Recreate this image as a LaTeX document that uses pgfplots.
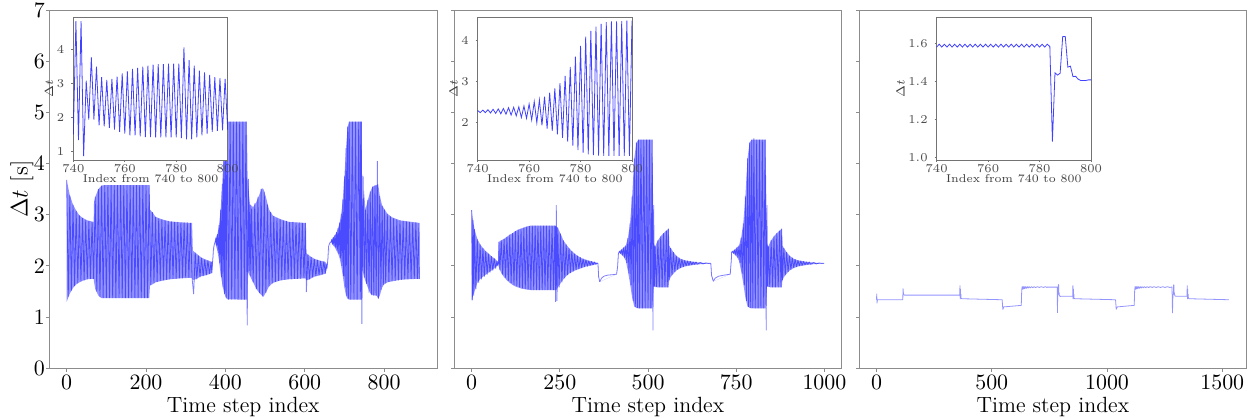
\documentclass[border=0pt]{standalone}
\usepackage{pgfplots}
\usepackage{pgfplotstable}
\usepgfplotslibrary{fillbetween}
\pgfplotsset{compat=1.18}

% Detail window 740--800 of each run
\pgfplotstableread{
x y
740 1.50
741 4.82
742 1.34
743 4.82
744 0.87
745 3.08
746 1.94
747 3.76
748 1.94
749 3.49
750 1.77
751 3.18
752 1.74
753 3.10
754 1.70
755 3.13
756 1.65
757 3.20
758 1.58
759 3.29
760 1.53
761 3.35
762 1.48
763 3.42
764 1.48
765 3.45
766 1.45
767 3.49
768 1.43
769 3.52
770 1.43
771 3.55
772 1.42
773 3.56
774 1.42
775 3.56
776 1.42
777 3.58
778 1.42
779 3.58
780 1.42
781 3.58
782 1.40
783 4.05
784 1.36
785 3.68
786 1.36
787 3.52
788 1.42
789 3.37
790 1.48
791 3.32
792 1.53
793 3.25
794 1.58
795 3.18
796 1.61
797 3.15
798 1.63
799 3.13
800 1.64
}\detailA

\pgfplotstableread{
x y
740 2.29
741 2.24
742 2.30
743 2.24
744 2.31
745 2.23
746 2.32
747 2.22
748 2.33
749 2.21
750 2.34
751 2.20
752 2.36
753 2.18
754 2.37
755 2.16
756 2.38
757 2.12
758 2.40
759 2.10
760 2.45
761 2.06
762 2.51
763 1.99
764 2.55
765 1.93
766 2.63
767 1.85
768 2.73
769 1.79
770 2.83
771 1.71
772 2.96
773 1.62
774 3.14
775 1.53
776 3.36
777 1.43
778 3.61
779 1.32
780 3.87
781 1.26
782 4.10
783 1.22
784 4.24
785 1.20
786 4.34
787 1.19
788 4.41
789 1.18
790 4.45
791 1.18
792 4.47
793 1.18
794 4.47
795 1.18
796 4.48
797 1.18
798 4.49
799 1.18
800 4.49
}\detailB

\pgfplotstableread{
x y
740 1.580
741 1.595
742 1.580
743 1.595
744 1.580
745 1.595
746 1.580
747 1.595
748 1.580
749 1.595
750 1.580
751 1.595
752 1.580
753 1.595
754 1.580
755 1.595
756 1.580
757 1.595
758 1.580
759 1.595
760 1.580
761 1.595
762 1.580
763 1.595
764 1.580
765 1.595
766 1.580
767 1.595
768 1.580
769 1.595
770 1.580
771 1.595
772 1.580
773 1.595
774 1.580
775 1.595
776 1.580
777 1.595
778 1.580
779 1.595
780 1.580
781 1.595
782 1.580
783 1.595
784 1.583
785 1.085
786 1.445
787 1.433
788 1.443
789 1.635
790 1.635
791 1.475
792 1.480
793 1.425
794 1.427
795 1.412
796 1.405
797 1.405
798 1.405
799 1.408
800 1.408
}\detailC

% Upper and lower reach of the alternating step size, run 1
\pgfplotstableread{
x u l
0 3.68 1.30
8 3.38 1.46
16 3.20 1.57
24 3.08 1.64
32 2.99 1.68
40 2.94 1.71
52 2.89 1.74
68 2.86 1.75
69 3.25 1.69
72 3.35 1.55
80 3.50 1.42
88 3.57 1.37
96 3.58 1.37
208 3.58 1.37
210 3.10 1.62
216 3.05 1.64
224 2.96 1.68
240 2.91 1.71
260 2.87 1.74
290 2.85 1.76
316 2.84 1.77
318 2.30 1.72
324 2.26 1.74
340 2.16 1.80
352 2.12 1.82
366 2.08 1.86
368 2.10 2.10
374 2.47 2.47
376 2.55 2.40
380 2.62 2.30
384 2.80 2.10
388 3.10 1.85
392 3.60 1.65
396 4.20 1.50
400 4.65 1.40
404 4.82 1.35
454 4.82 1.34
456 3.70 1.90
462 3.20 1.80
470 3.15 1.68
478 3.25 1.55
486 3.40 1.47
492 3.52 1.42
496 3.50 1.40
502 3.35 1.48
510 3.10 1.60
520 2.98 1.67
540 2.91 1.72
560 2.86 1.74
602 2.84 1.76
604 2.25 1.72
612 2.20 1.74
624 2.14 1.79
640 2.10 1.82
652 2.08 1.85
656 2.00 1.95
658 2.10 2.10
666 2.47 2.47
668 2.52 2.45
672 2.56 2.40
676 2.60 2.36
680 2.66 2.30
684 2.74 2.24
688 2.85 2.15
692 3.02 2.00
696 3.30 1.80
700 3.75 1.58
704 4.30 1.42
708 4.72 1.36
712 4.82 1.34
743 4.82 1.34
745 3.08 1.94
749 3.49 1.80
753 3.10 1.70
759 3.29 1.58
765 3.45 1.47
771 3.55 1.43
781 3.58 1.42
785 3.60 1.36
789 3.37 1.42
795 3.18 1.58
800 3.12 1.64
808 3.02 1.68
820 2.95 1.70
840 2.89 1.73
860 2.87 1.74
889 2.84 1.75
}\reachA

% Upper and lower reach, run 2
\pgfplotstableread{
x u l
0 3.09 1.33
4 2.90 1.42
8 2.72 1.50
16 2.53 1.67
24 2.42 1.74
32 2.35 1.79
40 2.29 1.83
48 2.24 1.87
56 2.19 1.91
64 2.15 1.95
72 2.10 2.00
76 2.06 2.04
77 2.47 1.98
84 2.50 1.86
92 2.53 1.78
100 2.57 1.72
108 2.61 1.67
116 2.64 1.63
124 2.68 1.60
132 2.71 1.58
140 2.73 1.56
148 2.75 1.55
156 2.77 1.54
168 2.79 1.53
236 2.79 1.53
240 2.77 1.53
244 2.75 1.58
252 2.63 1.66
260 2.50 1.74
268 2.42 1.80
276 2.35 1.85
284 2.29 1.88
292 2.24 1.91
300 2.20 1.93
312 2.15 1.96
324 2.12 1.99
340 2.09 2.01
356 2.06 2.04
358 2.05 2.05
360 1.79 1.79
363 1.69 1.69
411 1.84 1.84
416 2.24 2.24
419 2.29 2.27
425 2.32 2.22
431 2.36 2.18
437 2.40 2.10
443 2.55 1.90
449 2.83 1.66
455 3.36 1.38
461 4.10 1.21
467 4.41 1.18
473 4.47 1.17
512 4.47 1.17
516 2.45 1.60
520 2.38 1.59
528 2.50 1.58
536 2.58 1.58
544 2.64 1.58
552 2.69 1.58
558 2.73 1.58
560 2.40 1.72
564 2.35 1.78
572 2.27 1.85
580 2.20 1.91
592 2.14 1.96
604 2.11 1.99
620 2.09 2.01
640 2.07 2.03
678 2.05 2.05
680 1.82 1.82
685 1.70 1.70
733 1.84 1.84
737 2.27 2.27
740 2.29 2.26
746 2.32 2.22
752 2.36 2.18
758 2.40 2.10
764 2.55 1.90
770 2.83 1.66
776 3.36 1.38
782 4.10 1.21
788 4.41 1.18
794 4.47 1.17
833 4.47 1.17
837 2.45 1.60
841 2.38 1.59
849 2.50 1.58
857 2.58 1.58
865 2.64 1.58
873 2.69 1.58
879 2.73 1.58
881 2.40 1.72
885 2.35 1.78
893 2.27 1.85
901 2.20 1.91
913 2.14 1.96
925 2.11 1.99
941 2.09 2.01
961 2.07 2.03
999 2.05 2.05
}\reachB

\pgfplotsset{
  mainax/.style={
    scale only axis, height=179.17pt,
    ymin=0, ymax=7, ytick={0,1,...,7},
    tick align=outside, tick pos=left, major tick length=1.6pt,
    axis line style={black!45, line width=0.5pt},
    tick style={black!45, line width=0.5pt},
    tick label style={font=\fontsize{10.7}{12}\selectfont},
    xticklabel style={yshift=1.6pt},
    yticklabel style={xshift=3pt},
    /pgf/number format/1000 sep={},
    xlabel={Time step index},
    xlabel style={font=\fontsize{11}{13}\selectfont,
      at={(axis description cs:0.5,0)}, anchor=north, yshift=-10.9pt},
  },
  insetax/.style={
    scale only axis, width=77.17pt, height=71.33pt,
    xmin=740, xmax=800, xtick={740,760,780,800},
    axis background/.style={fill=white},
    tick align=outside, tick pos=left, major tick length=1pt,
    axis line style={black!55, line width=0.4pt},
    tick style={black!55, line width=0.4pt},
    tick label style={font=\fontsize{5.7}{6.5}\selectfont, text=black!70},
    xticklabel style={yshift=2pt},
    label style={font=\fontsize{5.7}{6.5}\selectfont, text=black!75},
    xlabel={Index from 740 to 800},
    xlabel style={yshift=6pt},
    ylabel={$\Delta t$},
    ylabel style={yshift=-5pt},
  },
  signal/.style={blue, mark=none, line width=0.4pt, draw opacity=0.5, line join=bevel},
  reach/.style={draw=none, fill=blue, fill opacity=0.42},
  thinsignal/.style={blue, mark=none, line width=0.4pt, draw opacity=0.42, line join=bevel},
  detail/.style={blue, mark=none, line width=0.4pt, draw opacity=0.75},
}

\begin{document}
\begin{tikzpicture}

% ---------------- run 1 ----------------
\begin{axis}[mainax, at={(24.5pt,24.83pt)}, anchor=south west, width=194.15pt,
  xmin=-44.5, xmax=934, xtick={0,200,400,600,800},
  ylabel={$\Delta t$ [s]},
  ylabel style={font=\fontsize{11.5}{13}\selectfont, at={(axis description cs:-0.07,0.5)}, anchor=center}]
\addplot[draw=none, name path=uA] table[x=x, y=u] {\reachA};
\addplot[draw=none, name path=lA] table[x=x, y=l] {\reachA};
\addplot[reach] fill between[of=uA and lA];
\addplot[signal] coordinates {
(0,3.68)(4,1.40)(8,3.38)(12,1.52)(16,3.20)(20,1.61)(24,3.08)(28,1.66)(32,2.99)(36,1.70)(40,2.94)(44,1.72)(48,2.90)(52,1.74)(56,2.88)(60,1.75)(64,2.86)(68,1.75)
(72,3.35)(76,1.50)(80,3.50)(84,1.39)(88,3.57)(92,1.37)(96,3.58)(100,1.37)(104,3.58)(108,1.37)(112,3.58)(116,1.37)(120,3.58)(124,1.37)(128,3.58)(132,1.37)(136,3.58)(140,1.37)(144,3.58)(148,1.37)(152,3.58)(156,1.37)(160,3.58)(164,1.37)(168,3.58)(172,1.37)(176,3.58)(180,1.37)(184,3.58)(188,1.37)(192,3.58)(196,1.37)(200,3.58)(204,1.37)(208,3.58)
(212,1.62)(216,3.05)(220,1.66)(224,2.96)(228,1.69)(232,2.93)(236,1.71)(240,2.91)(244,1.72)(248,2.89)(252,1.73)(256,2.88)(260,1.74)(264,2.87)(268,1.75)(272,2.86)(276,1.75)(280,2.86)(284,1.76)(288,2.85)(292,1.76)(296,2.85)(300,1.77)(304,2.85)(308,1.77)(312,2.84)(316,1.77)
(320,1.45)(324,2.26)(328,1.74)(332,2.20)(336,1.78)(340,2.16)(344,1.80)(348,2.13)(352,1.82)(356,2.11)(360,1.84)(364,2.08)(366,1.86)
(368,2.10)(370,2.34)(372,2.42)(374,2.47)
(376,2.55)(378,2.40)(380,2.62)(382,2.25)(384,2.80)(386,2.05)(388,3.10)(390,1.78)(392,3.60)(394,1.58)(396,4.20)(398,1.45)(400,4.65)(402,1.38)(404,4.82)(408,1.34)(412,4.82)(416,1.34)(420,4.82)(424,1.34)(428,4.82)(432,1.34)(436,4.82)(440,1.34)(444,4.82)(448,1.34)(452,4.82)(455,0.84)
(458,3.70)(460,1.90)(462,3.20)(464,1.80)(466,3.12)(470,1.68)(474,3.22)(478,1.55)(482,3.35)(486,1.47)(490,3.50)(494,1.40)(498,3.45)(502,1.48)(506,3.20)(510,1.60)(514,3.05)(518,1.66)(522,2.98)(526,1.69)(530,2.94)(534,1.71)(538,2.91)(542,1.72)(546,2.89)(550,1.73)(554,2.88)(558,1.74)(562,2.86)(566,1.74)(570,2.86)(574,1.75)(578,2.85)(582,1.75)(586,2.85)(590,1.75)(594,2.84)(598,1.76)(602,2.84)
(604,1.49)(608,2.22)(612,1.74)(616,2.17)(620,1.78)(624,2.14)(628,1.80)(632,2.12)(636,1.82)(640,2.10)(644,1.83)(648,2.09)(652,1.85)(654,2.05)(656,1.95)
(658,2.10)(660,2.38)(663,2.45)(666,2.47)
(668,2.52)(670,2.42)(672,2.56)(674,2.40)(676,2.60)(678,2.36)(680,2.66)(682,2.30)(684,2.74)(686,2.24)(688,2.85)(690,2.15)(692,3.02)(694,2.00)(696,3.30)(698,1.80)(700,3.75)(702,1.58)(704,4.30)(706,1.42)(708,4.72)(710,1.36)(712,4.82)(716,1.34)(720,4.82)(724,1.34)(728,4.82)(732,1.34)(736,4.82)(740,1.50)(741,4.82)(742,1.34)(743,4.82)(744,0.87)
(747,3.76)(750,1.77)(753,3.10)(756,1.65)(759,3.29)(762,1.48)(765,3.45)(768,1.43)(771,3.55)(774,1.42)(777,3.58)(780,1.42)(783,4.05)(786,1.36)(789,3.37)(792,1.53)(795,3.18)(798,1.63)(801,3.10)
(804,1.66)(808,3.02)(812,1.69)(816,2.97)(820,1.70)(824,2.93)(828,1.71)(832,2.91)(836,1.72)(840,2.89)(844,1.73)(848,2.88)(852,1.74)(856,2.87)(860,1.74)(864,2.86)(868,1.75)(872,2.85)(876,1.75)(880,2.85)(884,1.75)(888,2.84)(889,1.75)
};
\end{axis}

% ---------------- run 2 ----------------
\begin{axis}[mainax, at={(227pt,24.83pt)}, anchor=south west, width=193.85pt,
  xmin=-50, xmax=1049, xtick={0,250,500,750,1000}, yticklabels={}]
\addplot[draw=none, name path=uB] table[x=x, y=u] {\reachB};
\addplot[draw=none, name path=lB] table[x=x, y=l] {\reachB};
\addplot[reach] fill between[of=uB and lB];
\addplot[signal] coordinates {
(0,3.09)(2,1.33)(4,2.90)(6,1.42)(8,2.72)(12,1.55)(16,2.53)(20,1.67)(24,2.42)(28,1.74)(32,2.35)(36,1.79)(40,2.29)(44,1.83)(48,2.24)(52,1.87)(56,2.19)(60,1.91)(64,2.15)(68,1.95)(72,2.10)(74,2.00)(76,2.06)
(77,2.47)(80,1.92)(84,2.50)(88,1.83)(92,2.53)(96,1.77)(100,2.57)(104,1.71)(108,2.61)(112,1.67)(116,2.64)(120,1.63)(124,2.68)(128,1.60)(132,2.71)(136,1.58)(140,2.73)(144,1.56)(148,2.75)(152,1.55)(156,2.77)(160,1.54)(164,2.78)(168,1.53)(172,2.79)(176,1.53)(180,2.79)(184,1.53)(188,2.79)(192,1.53)(196,2.79)(200,1.53)(204,2.79)(208,1.53)(212,2.79)(216,1.53)(220,2.79)(224,1.53)(228,2.79)(232,1.53)(236,2.79)(238,1.30)
(240,3.19)(242,1.32)(244,2.75)(248,1.58)(252,2.63)(256,1.68)(260,2.50)(264,1.76)(268,2.42)(272,1.82)(276,2.35)(280,1.86)(284,2.29)(288,1.89)(292,2.24)(296,1.92)(300,2.20)(304,1.94)(308,2.17)(312,1.96)(316,2.14)(320,1.98)(324,2.12)(328,1.99)(332,2.10)(336,2.01)(340,2.09)(344,2.02)(348,2.08)(352,2.03)(356,2.06)
(358,2.05)(360,1.79)(363,1.69)(368,1.76)(375,1.80)(385,1.82)(400,1.83)(411,1.84)(414,2.00)(416,2.24)
(419,2.29)(422,2.24)(425,2.32)(428,2.21)(431,2.36)(434,2.16)(437,2.40)(440,2.06)(443,2.55)(446,1.85)(449,2.83)(452,1.62)(455,3.36)(458,1.32)(461,4.10)(464,1.20)(467,4.41)(470,1.18)(473,4.47)(476,1.17)(480,4.47)(484,1.17)(488,4.47)(492,1.17)(496,4.47)(500,1.17)(504,4.47)(508,1.17)(512,4.47)(514,0.74)
(516,3.19)(518,1.60)(520,2.38)(524,1.59)(528,2.50)(532,1.58)(536,2.58)(540,1.58)(544,2.64)(548,1.58)(552,2.69)(556,1.58)(558,2.73)
(560,1.72)(564,2.35)(568,1.82)(572,2.27)(576,1.88)(580,2.20)(584,1.93)(588,2.16)(592,1.96)(596,2.13)(600,1.98)(604,2.11)(608,2.00)(612,2.10)(616,2.01)(620,2.09)(624,2.02)(628,2.08)(632,2.03)(636,2.08)(640,2.03)(648,2.07)(656,2.04)(664,2.06)(672,2.05)(678,2.05)
(680,1.82)(685,1.70)(690,1.76)(700,1.80)(715,1.82)(733,1.84)(736,2.10)(737,2.27)
(740,2.29)(743,2.24)(746,2.32)(749,2.21)(752,2.36)(755,2.16)(758,2.40)(761,2.06)(764,2.55)(767,1.85)(770,2.83)(773,1.62)(776,3.36)(779,1.32)(782,4.10)(785,1.20)(788,4.41)(791,1.18)(794,4.47)(797,1.18)(800,4.49)(804,1.17)(808,4.47)(812,1.17)(816,4.47)(820,1.17)(824,4.47)(828,1.17)(832,4.47)(835,0.74)
(837,3.19)(839,1.60)(841,2.38)(845,1.59)(849,2.50)(853,1.58)(857,2.58)(861,1.58)(865,2.64)(869,1.58)(873,2.69)(877,1.58)(879,2.73)
(881,1.72)(885,2.35)(889,1.82)(893,2.27)(897,1.88)(901,2.20)(905,1.93)(909,2.16)(913,1.96)(917,2.13)(921,1.98)(925,2.11)(929,2.00)(933,2.10)(937,2.01)(941,2.09)(945,2.02)(949,2.08)(953,2.03)(957,2.08)(961,2.03)(969,2.07)(977,2.04)(985,2.06)(993,2.05)(999,2.05)
};
\end{axis}

% ---------------- run 3 ----------------
\begin{axis}[mainax, at={(429.5pt,24.83pt)}, anchor=south west, width=193.85pt,
  xmin=-76, xmax=1606, xtick={0,500,1000,1500}, yticklabels={}]
\addplot[thinsignal] coordinates {
(0,1.34)(1,1.46)(2,1.27)(4,1.34)(114,1.34)(115,1.56)(117,1.45)(121,1.43)(361,1.43)(362,1.62)(363,1.35)(364,1.55)(365,1.36)(366,1.45)(367,1.37)(370,1.36)(545,1.34)(548,1.15)(552,1.20)(628,1.23)
(630,1.53)(632,1.60)(634,1.54)(636,1.60)(638,1.55)(640,1.60)(643,1.555)(646,1.60)(650,1.56)(654,1.60)(658,1.565)(662,1.598)(667,1.57)(672,1.597)(678,1.575)(684,1.596)(690,1.578)(698,1.596)(706,1.58)(714,1.595)(724,1.58)(732,1.595)(740,1.58)
};
\addplot[thinsignal] table[x=x, y=y] {\detailC};
\addplot[thinsignal] coordinates {
(800,1.408)(804,1.41)(851,1.41)(852,1.62)(853,1.35)(854,1.55)(855,1.36)(856,1.45)(857,1.37)(860,1.36)(1037,1.34)(1040,1.15)(1044,1.20)(1118,1.23)
(1120,1.53)(1122,1.60)(1124,1.54)(1126,1.60)(1128,1.55)(1130,1.60)(1133,1.555)(1136,1.60)(1140,1.56)(1144,1.60)(1148,1.565)(1152,1.598)(1157,1.57)(1162,1.597)(1168,1.575)(1174,1.596)(1180,1.578)(1188,1.596)(1196,1.58)(1204,1.595)(1214,1.58)(1222,1.595)(1232,1.58)(1242,1.595)(1252,1.58)(1262,1.595)(1272,1.58)(1282,1.59)
(1284,1.08)(1286,1.44)(1288,1.44)(1289,1.63)(1290,1.63)(1291,1.47)(1292,1.48)(1294,1.42)(1297,1.41)(1347,1.41)(1348,1.62)(1349,1.35)(1350,1.55)(1351,1.36)(1352,1.45)(1353,1.37)(1356,1.36)(1529,1.34)
};
\end{axis}

% ---------------- detail windows ----------------
\begin{axis}[insetax, at={(36.67pt,129pt)}, anchor=south west,
  ymin=0.76, ymax=4.93, ytick={1,2,3,4}]
\addplot[detail] table[x=x, y=y] {\detailA};
\end{axis}

\begin{axis}[insetax, at={(238.83pt,129pt)}, anchor=south west,
  ymin=1.08, ymax=4.57, ytick={2,3,4}]
\addplot[detail] table[x=x, y=y] {\detailB};
\end{axis}

\begin{axis}[insetax, at={(468.33pt,129pt)}, anchor=south west,
  ymin=0.988, ymax=1.736, ytick={1.0,1.2,1.4,1.6},
  yticklabel style={/pgf/number format/.cd, fixed, fixed zerofill, precision=1}]
\addplot[detail] table[x=x, y=y] {\detailC};
\end{axis}

% page frame
\pgfresetboundingbox
\useasboundingbox (0,0) rectangle (625pt,209pt);
\end{tikzpicture}
\end{document}
